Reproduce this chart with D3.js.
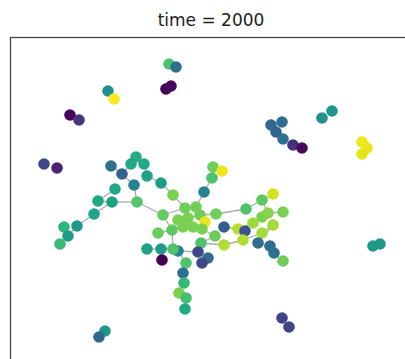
<!DOCTYPE html>
<html>
<head>
<meta charset="utf-8">
<script src="https://cdn.jsdelivr.net/npm/d3@7"></script>
<style>
  html, body { margin: 0; padding: 0; background: #fff; }
  svg { display: block; }
</style>
</head>
<body>
<svg id="chart" width="405" height="359"></svg>
<script>
// Graph snapshot: node layout positions (layout units), node colour values, edges.
const title = "time = 2000";

const nodeX = [
  159,166,156,161, 98,104, 60, 69, 34, 47,
  261,272,266,273,283,292,312,322,352,357,
  352,363,370,272,279, 95, 89,101,112,126,
  121,134,137,124,151,105, 88,102,127, 84,
   67, 54, 58, 50,163,153,175,186,168,178,
  190,173,183,195,192,206,162,148,205,214,
  228,235,203,212,202,194,236,252,263,273,
  252,258,243,263,252,248,260,264,273,214,
  233,191,188,198,192,168,163,151,137,152,
  176,173,174,169,176,175
];
const nodeY = [
   27, 30, 52, 49, 54, 62, 78, 83,127,131,
   88, 85, 95,102,108,111, 81, 74,105,111,
  117,209,207,281,290,294,300,129,137,120,
  127,127,139,148,146,152,164,165,165,177,
  189,190,199,207,158,178,171,170,183,181,
  178,190,190,185,192,177,193,196,199,190,
  192,194,130,134,141,155,172,163,157,175,
  180,176,186,188,196,206,209,216,224,208,
  203,206,215,221,226,214,212,212,212,223,
  226,236,246,256,261,272
];
const nodeValue = [
  0.72,0.37,0.00,0.03,0.50,1.00,0.02,0.15,0.22,0.10,
  0.33,0.37,0.32,0.37,0.14,0.03,0.50,0.52,0.98,0.97,
  0.96,0.53,0.53,0.20,0.20,0.53,0.33,0.37,0.32,0.62,
  0.60,0.60,0.57,0.45,0.55,0.60,0.60,0.57,0.73,0.58,
  0.52,0.65,0.55,0.68,0.80,0.76,0.78,0.78,0.80,0.80,
  0.78,0.80,0.80,0.97,0.80,0.78,0.75,0.77,0.77,0.30,
  0.88,0.25,0.78,0.98,0.72,0.45,0.72,0.75,0.93,0.80,
  0.80,0.82,0.85,0.86,0.86,0.35,0.35,0.37,0.78,0.88,
  0.88,0.72,0.22,0.35,0.22,0.45,0.72,0.55,0.57,0.00,
  0.72,0.37,0.67,0.80,0.70,0.60
];
// Edges as [source, target] node indices
const edges = [
  [27,28],[28,33],[30,29],[29,31],[31,32],[32,34],[34,44],[30,28],
  [33,38],[38,37],[37,36],[36,35],[37,39],[39,40],[40,42],[41,42],[42,43],
  [44,46],[38,45],[45,46],[46,47],[47,65],[65,64],[64,62],[62,63],
  [45,56],[56,57],[56,86],[51,48],[48,49],[49,50],[50,55],[52,54],[54,58],
  [55,66],[66,67],[67,68],[67,71],[71,69],[70,72],[72,60],[60,59],
  [58,81],[81,79],[79,80],[80,74],[74,73],[73,75],[75,76],[76,77],[77,78],
  [86,85],[85,82],[82,83],[83,84],[85,90],[90,91],[91,92],[92,93],[93,94],[94,95],
  [87,88],[87,86],[89,87],[51,56],[49,52]
];

const frame = { left: 10, top: 37, right: 412, bottom: 368 };

const x = d3.scaleLinear().domain([0, 400]).range([frame.left, frame.left + 400]);
const y = d3.scaleLinear().domain([0, 330]).range([frame.top, frame.top + 330]);
const color = d3.scaleSequential(d3.interpolateViridis).domain([0, 1]);

const svg = d3.select("#chart");

const nodes = nodeX.map((v, i) => ({ x: v, y: nodeY[i], value: nodeValue[i] }));

// Edges
svg.append("g")
  .selectAll("line")
  .data(edges)
  .join("line")
  .attr("x1", d => x(nodes[d[0]].x))
  .attr("y1", d => y(nodes[d[0]].y))
  .attr("x2", d => x(nodes[d[1]].x))
  .attr("y2", d => y(nodes[d[1]].y))
  .attr("stroke", "#ababab")
  .attr("stroke-width", 1.3);

// Nodes
svg.append("g")
  .selectAll("circle")
  .data(nodes)
  .join("circle")
  .attr("cx", d => x(d.x))
  .attr("cy", d => y(d.y))
  .attr("r", 5.8)
  .attr("fill", d => color(d.value));

// Axes frame
svg.append("rect")
  .attr("x", frame.left + 0.5)
  .attr("y", frame.top + 0.5)
  .attr("width", frame.right - frame.left)
  .attr("height", frame.bottom - frame.top)
  .attr("fill", "none")
  .attr("stroke", "#444")
  .attr("stroke-width", 1.3);

// Title
svg.append("text")
  .attr("x", (frame.left + frame.right) / 2)
  .attr("y", 26)
  .attr("text-anchor", "middle")
  .attr("font-family", "DejaVu Sans")
  .attr("font-size", 17)
  .attr("fill", "#222")
  .text(title);
</script>
</body>
</html>
